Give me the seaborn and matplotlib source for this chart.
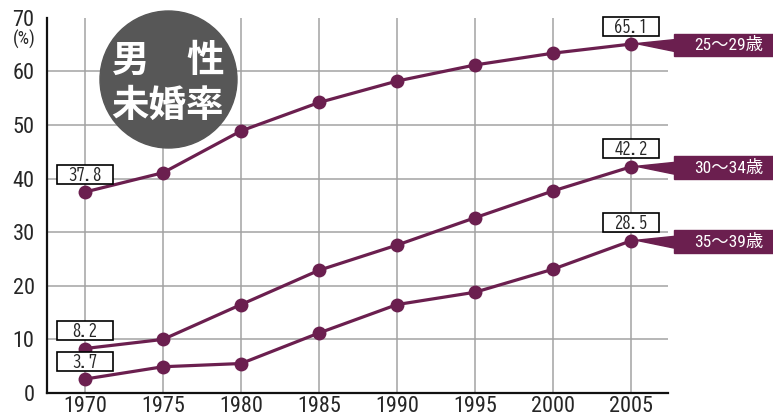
import matplotlib
matplotlib.use("Agg")
import matplotlib.pyplot as plt
import seaborn as sns
import pandas as pd
from matplotlib.patches import Rectangle, Polygon, Ellipse
from matplotlib.transforms import IdentityTransform

# Male never-married rate (%) by age group
years = [1970, 1975, 1980, 1985, 1990, 1995, 2000, 2005]
age_groups = ["25～29歳", "30～34歳", "35～39歳"]
rate_25_29 = [37.5, 41.1, 48.9, 54.2, 58.2, 61.2, 63.4, 65.1]
rate_30_34 = [8.3, 10.0, 16.5, 22.9, 27.6, 32.7, 37.7, 42.2]
rate_35_39 = [2.6, 4.9, 5.5, 11.2, 16.5, 18.8, 23.1, 28.4]
first_labels = ["37.8", "8.2", "3.7"]
last_labels = ["65.1", "42.2", "28.5"]
y_ticks = [0, 10, 20, 30, 40, 50, 60, 70]

line_color = "#6b1f4f"
cond = ["Roboto Condensed", "Noto Sans CJK JP", "DejaVu Sans"]

df = pd.DataFrame({
    "year": years * 3,
    "rate": rate_25_29 + rate_30_34 + rate_35_39,
    "group": [g for g in age_groups for _ in years],
})

sns.set_style("white")
plt.rcParams["font.family"] = cond

W, H = 773, 420
fig = plt.figure(figsize=(W / 100, H / 100), dpi=100)
ax = fig.add_axes([47 / W, 1 - 393 / H, (668 - 47) / W, (393 - 17.8) / H])

ax.set_xlim(1967.56, 2007.37)
ax.set_ylim(0, 70)
ax.set_xticks(years)
ax.set_yticks(y_ticks)
ax.grid(True, color="#a3a3a3", linewidth=1.1)
ax.set_axisbelow(True)
ax.get_ygridlines()[-1].set_visible(False)

sns.lineplot(data=df, x="year", y="rate", hue="group", palette=[line_color] * 3,
             marker="o", markersize=10, markeredgewidth=0, linewidth=2.3,
             legend=False, ax=ax, zorder=3)

ax.set_xlabel("")
ax.set_ylabel("")
for s in ["top", "right"]:
    ax.spines[s].set_visible(False)
for s in ["left", "bottom"]:
    ax.spines[s].set_color("#111111")
    ax.spines[s].set_linewidth(1.6)
ax.tick_params(axis="x", length=0, labelsize=16, pad=2.5)
ax.tick_params(axis="y", length=0, labelsize=16, pad=9)

fig.text(24 / W, 1 - 39 / H, "(%)", ha="center", va="center", fontsize=13)

# badge
fig.add_artist(Ellipse((168.5 / W, 1 - 79.5 / H), 137 / W, 137 / H,
                       transform=fig.transFigure, color="#575757", zorder=1))
fig.text(168 / W, 1 - 60 / H, "男　性", ha="center", va="center", color="white",
         fontsize=27, fontweight="bold", family=["Noto Sans CJK JP"])
fig.text(168 / W, 1 - 105 / H, "未婚率", ha="center", va="center", color="white",
         fontsize=27, fontweight="bold", family=["Noto Sans CJK JP"])

fig.canvas.draw()
ident = IdentityTransform()


def value_box(x, y, text):
    X, Y = ax.transData.transform((x, y))
    cy = Y + 18
    fig.add_artist(Rectangle((X - 28, cy - 9.5), 56, 19, transform=ident,
                             facecolor="white", edgecolor="black", linewidth=1.2, zorder=5))
    fig.text(X, cy - 0.5, text, transform=ident, ha="center", va="center", fontsize=12,
             family=["BIZ UDGothic", "DejaVu Sans Mono"], zorder=6)


def tag(x, y, text):
    X, Y = ax.transData.transform((x, y))
    fig.add_artist(Polygon([(X + 5, Y + 0.5), (X + 44, Y + 4.5), (X + 44, Y - 7.5)],
                           closed=True, transform=ident, color=line_color, zorder=5))
    fig.add_artist(Rectangle((X + 43, Y - 12), 150, 22.5, transform=ident,
                             color=line_color, zorder=5))
    fig.text(X + 98, Y - 1, text, transform=ident, ha="center", va="center",
             fontsize=12.5, color="white", family=cond, zorder=6)


for series, first, last, group in zip([rate_25_29, rate_30_34, rate_35_39],
                                      first_labels, last_labels, age_groups):
    value_box(years[0], series[0], first)
    value_box(years[-1], series[-1], last)
    tag(years[-1], series[-1], group)

fig.savefig("out.png", dpi=100)
